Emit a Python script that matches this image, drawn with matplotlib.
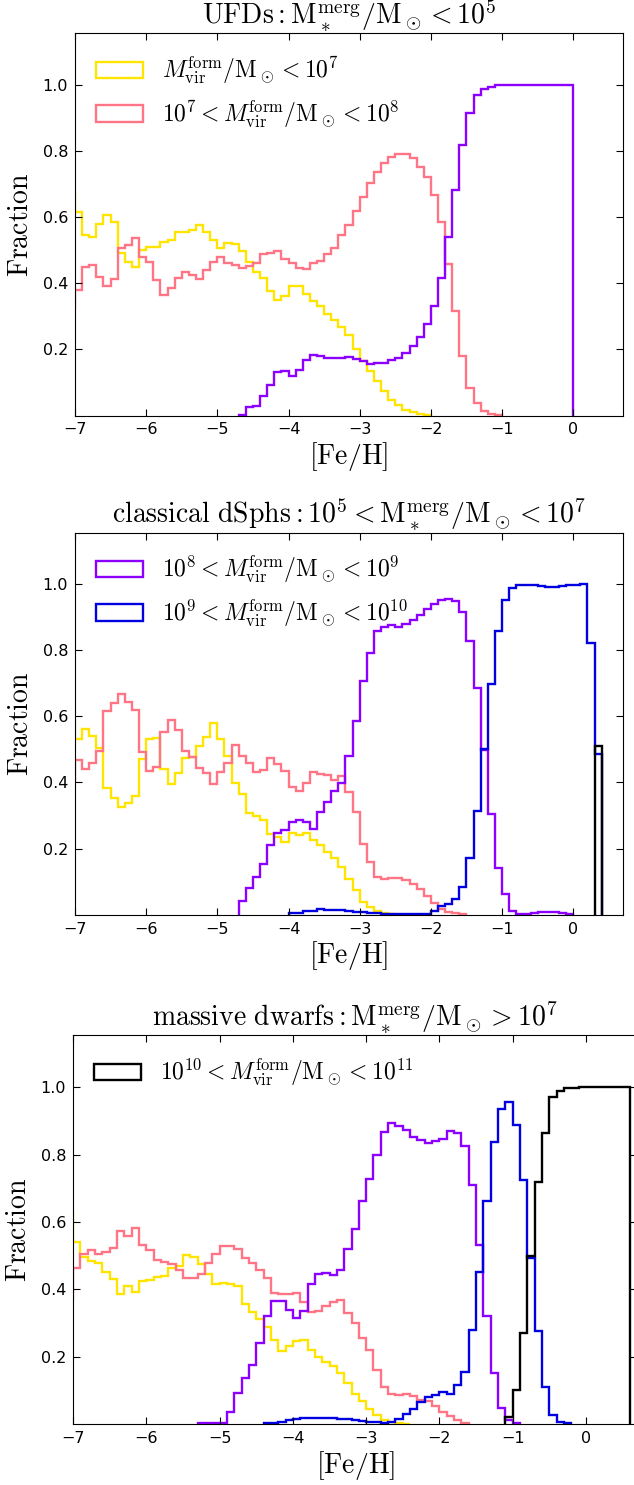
import numpy as np
import matplotlib
matplotlib.use('Agg')
import matplotlib.pyplot as plt
from matplotlib.patches import Patch

plt.rcParams['mathtext.fontset'] = 'cm'

# width of the [Fe/H] bins
dfeh = 0.1

# ---- UFDs: fraction of stars per [Fe/H] bin, by halo mass at formation ----
ufd_m7_start = -7.1
ufd_m7 = [0.675, 0.615, 0.545, 0.54, 0.58, 0.605, 0.585, 0.49, 0.465, 0.45,
          0.50, 0.51, 0.51, 0.525, 0.53, 0.553, 0.555, 0.56, 0.575, 0.553,
          0.53, 0.507, 0.52, 0.517, 0.497, 0.465, 0.435, 0.415, 0.375, 0.35,
          0.36, 0.39, 0.39, 0.368, 0.345, 0.33, 0.307, 0.29, 0.268, 0.242,
          0.20, 0.165, 0.134, 0.104, 0.074, 0.048, 0.033, 0.018, 0.01, 0.005,
          0.002]
ufd_m8_start = -7.1
ufd_m8 = [0.325, 0.38, 0.45, 0.455, 0.418, 0.39, 0.413, 0.505, 0.515, 0.535,
          0.48, 0.465, 0.41, 0.365, 0.385, 0.415, 0.435, 0.425, 0.412, 0.44,
          0.463, 0.48, 0.462, 0.455, 0.447, 0.452, 0.462, 0.487, 0.49, 0.497,
          0.473, 0.46, 0.445, 0.442, 0.46, 0.467, 0.488, 0.505, 0.545, 0.575,
          0.617, 0.66, 0.703, 0.737, 0.764, 0.78, 0.79, 0.79, 0.779, 0.75,
          0.72, 0.667, 0.584, 0.457, 0.316, 0.18, 0.084, 0.038, 0.013, 0.006,
          0.002]
ufd_m9_start = -4.7
ufd_m9 = [0.003, 0.025, 0.03, 0.058, 0.093, 0.131, 0.134, 0.12, 0.139, 0.168,
          0.183, 0.179, 0.175, 0.174, 0.175, 0.177, 0.17, 0.165, 0.155, 0.158,
          0.16, 0.167, 0.175, 0.188, 0.21, 0.237, 0.276, 0.331, 0.415, 0.54,
          0.682, 0.818, 0.914, 0.968, 0.986, 0.993, 0.998, 1.0, 1.0, 1.0,
          1.0, 1.0, 1.0, 1.0, 1.0, 1.0, 1.0]

# ---- classical dSphs ----
dsph_m7_start = -7.1
dsph_m7 = [0.59, 0.531, 0.56, 0.54, 0.505, 0.384, 0.353, 0.326, 0.338, 0.358,
           0.472, 0.531, 0.533, 0.439, 0.395, 0.429, 0.475, 0.477, 0.51, 0.538,
           0.58, 0.53, 0.479, 0.399, 0.364, 0.306, 0.299, 0.286, 0.244, 0.234,
           0.219, 0.248, 0.241, 0.248, 0.226, 0.21, 0.19, 0.17, 0.145, 0.108,
           0.074, 0.04, 0.022, 0.01, 0.004, 0.001]
dsph_m8_start = -7.1
dsph_m8 = [0.40, 0.469, 0.439, 0.459, 0.495, 0.616, 0.64, 0.667, 0.644, 0.618,
           0.492, 0.434, 0.447, 0.553, 0.59, 0.558, 0.495, 0.477, 0.444, 0.429,
           0.395, 0.432, 0.459, 0.513, 0.479, 0.459, 0.432, 0.437, 0.475, 0.455,
           0.435, 0.385, 0.375, 0.397, 0.43, 0.424, 0.422, 0.408, 0.418, 0.37,
           0.31, 0.215, 0.16, 0.115, 0.108, 0.11, 0.11, 0.105, 0.093, 0.078,
           0.058, 0.035, 0.017, 0.008, 0.004, 0.002]
dsph_m9_start = -4.7
dsph_m9 = [0.042, 0.08, 0.115, 0.153, 0.21, 0.248, 0.256, 0.281, 0.286, 0.281,
           0.26, 0.311, 0.341, 0.375, 0.397, 0.479, 0.586, 0.707, 0.792, 0.856,
           0.871, 0.875, 0.871, 0.879, 0.891, 0.906, 0.923, 0.94, 0.95, 0.954,
           0.947, 0.916, 0.827, 0.686, 0.497, 0.303, 0.14, 0.063, 0.012, 0.002,
           0.002, 0.005, 0.008, 0.009, 0.007, 0.004, 0.002]
dsph_m10_start = -4.0
dsph_m10 = [0.004, 0.006, 0.012, 0.012, 0.016, 0.014, 0.013, 0.013, 0.01, 0.009,
            0.007, 0.005, 0.004, 0.003, 0.002, 0.002, 0.002, 0.002, 0.002, 0.003,
            0.01, 0.027, 0.033, 0.047, 0.083, 0.171, 0.315, 0.502, 0.697, 0.857,
            0.95, 0.987, 0.997, 0.997, 0.995, 0.992, 0.99, 0.99, 0.992, 0.995,
            0.997, 1.0, 0.82, 0.487]
dsph_m11_start = 0.3
dsph_m11 = [0.51]

# ---- massive dwarfs ----
mass_m7_start = -7.1
mass_m7 = [0.626, 0.542, 0.497, 0.484, 0.479, 0.452, 0.431, 0.386, 0.41, 0.393,
           0.426, 0.428, 0.438, 0.44, 0.462, 0.469, 0.502, 0.495, 0.474, 0.446,
           0.415, 0.418, 0.416, 0.41, 0.356, 0.332, 0.312, 0.289, 0.25, 0.216,
           0.232, 0.245, 0.248, 0.22, 0.198, 0.185, 0.172, 0.152, 0.121, 0.09,
           0.067, 0.045, 0.028, 0.013, 0.006, 0.003, 0.001]
mass_m8_start = -7.1
mass_m8 = [0.375, 0.462, 0.504, 0.517, 0.504, 0.512, 0.522, 0.574, 0.558, 0.581,
           0.532, 0.517, 0.487, 0.482, 0.474, 0.457, 0.433, 0.435, 0.445, 0.477,
           0.505, 0.529, 0.529, 0.519, 0.492, 0.479, 0.457, 0.433, 0.39, 0.386,
           0.386, 0.39, 0.363, 0.332, 0.337, 0.349, 0.363, 0.369, 0.331, 0.30,
           0.255, 0.22, 0.16, 0.111, 0.089, 0.087, 0.089, 0.082, 0.072, 0.067,
           0.054, 0.037, 0.025, 0.012, 0.003]
mass_m9_start = -5.3
mass_m9 = [0.002, 0.002, 0.002, 0.003, 0.037, 0.091, 0.138, 0.175, 0.242, 0.32,
           0.364, 0.366, 0.338, 0.316, 0.335, 0.415, 0.447, 0.449, 0.443, 0.457,
           0.52, 0.58, 0.663, 0.727, 0.80, 0.868, 0.894, 0.885, 0.872, 0.853,
           0.845, 0.836, 0.84, 0.848, 0.87, 0.865, 0.825, 0.71, 0.532, 0.32,
           0.152, 0.047, 0.013, 0.003]
mass_m10_start = -4.4
mass_m10 = [0.002, 0.004, 0.007, 0.011, 0.015, 0.017, 0.018, 0.018, 0.018, 0.017,
            0.016, 0.014, 0.012, 0.009, 0.007, 0.005, 0.004, 0.006, 0.015, 0.03,
            0.045, 0.065, 0.08, 0.087, 0.095, 0.09, 0.115, 0.155, 0.28, 0.452,
            0.662, 0.838, 0.937, 0.957, 0.887, 0.724, 0.492, 0.275, 0.11, 0.028,
            0.006, 0.002]
mass_m11_start = -1.1
mass_m11 = [0.02, 0.10, 0.27, 0.50, 0.72, 0.865, 0.97, 0.99, 0.997, 0.999,
            1.0, 1.0, 1.0, 1.0, 1.0, 1.0, 1.0]

c_m7 = '#FFE400'
c_m8 = '#FF7585'
c_m9 = '#8B00FF'
c_m10 = '#0000E0'
c_m11 = 'black'

lab_m7 = r'$M_{\rm vir}^{\rm form}/\rm M_\odot < 10^7$'
lab_m8 = r'$10^7 < M_{\rm vir}^{\rm form}/\rm M_\odot < 10^8$'
lab_m9 = r'$10^8 < M_{\rm vir}^{\rm form}/\rm M_\odot < 10^9$'
lab_m10 = r'$10^9 < M_{\rm vir}^{\rm form}/\rm M_\odot < 10^{10}$'
lab_m11 = r'$10^{10} < M_{\rm vir}^{\rm form}/\rm M_\odot < 10^{11}$'

LW = 1.7


def draw(ax, start, frac, color):
    edges = start + dfeh * np.arange(len(frac) + 1)
    ax.stairs(frac, edges, baseline=0, color=color, lw=LW)


def style(ax, title):
    ax.set_xlim(-7, 0.7)
    ax.set_ylim(0, 1.155)
    ax.set_xticks(np.arange(-7, 1, 1))
    ax.set_yticks([0.2, 0.4, 0.6, 0.8, 1.0])
    ax.tick_params(direction='in', top=True, right=True, labelsize=11.5,
                   length=5, pad=5)
    ax.set_xlabel(r'$\rm [Fe/H]$', fontsize=20, labelpad=2)
    ax.set_ylabel(r'$\rm Fraction$', fontsize=20, labelpad=6)
    ax.set_title(title, fontsize=20)


def handle(color, label):
    return Patch(facecolor='none', edgecolor=color, lw=LW, label=label)


fig = plt.figure(figsize=(6.34, 14.85), dpi=100)
ax1 = fig.add_axes([0.1183, 0.7202, 0.8644, 0.2574])
ax2 = fig.add_axes([0.1183, 0.3840, 0.8644, 0.2574])
ax3 = fig.add_axes([0.1151, 0.0411, 0.8902, 0.2618])

# UFDs
draw(ax1, ufd_m7_start, ufd_m7, c_m7)
draw(ax1, ufd_m8_start, ufd_m8, c_m8)
draw(ax1, ufd_m9_start, ufd_m9, c_m9)
style(ax1, r'$\rm UFDs: M_*^{merg}/M_\odot < 10^5$')
ax1.legend(handles=[handle(c_m7, lab_m7), handle(c_m8, lab_m8)],
           loc='upper left', frameon=False, fontsize=17)

# classical dSphs
draw(ax2, dsph_m7_start, dsph_m7, c_m7)
draw(ax2, dsph_m8_start, dsph_m8, c_m8)
draw(ax2, dsph_m9_start, dsph_m9, c_m9)
draw(ax2, dsph_m10_start, dsph_m10, c_m10)
draw(ax2, dsph_m11_start, dsph_m11, c_m11)
style(ax2, r'$\rm classical\ dSphs: 10^5 < M_*^{merg}/M_\odot < 10^7$')
ax2.legend(handles=[handle(c_m9, lab_m9), handle(c_m10, lab_m10)],
           loc='upper left', frameon=False, fontsize=17)

# massive dwarfs
draw(ax3, mass_m7_start, mass_m7, c_m7)
draw(ax3, mass_m8_start, mass_m8, c_m8)
draw(ax3, mass_m9_start, mass_m9, c_m9)
draw(ax3, mass_m10_start, mass_m10, c_m10)
draw(ax3, mass_m11_start, mass_m11, c_m11)
style(ax3, r'$\rm massive\ dwarfs: M_*^{merg}/M_\odot > 10^7$')
ax3.legend(handles=[handle(c_m11, lab_m11)],
           loc='upper left', frameon=False, fontsize=17)

fig.savefig('out.png', dpi=100)
